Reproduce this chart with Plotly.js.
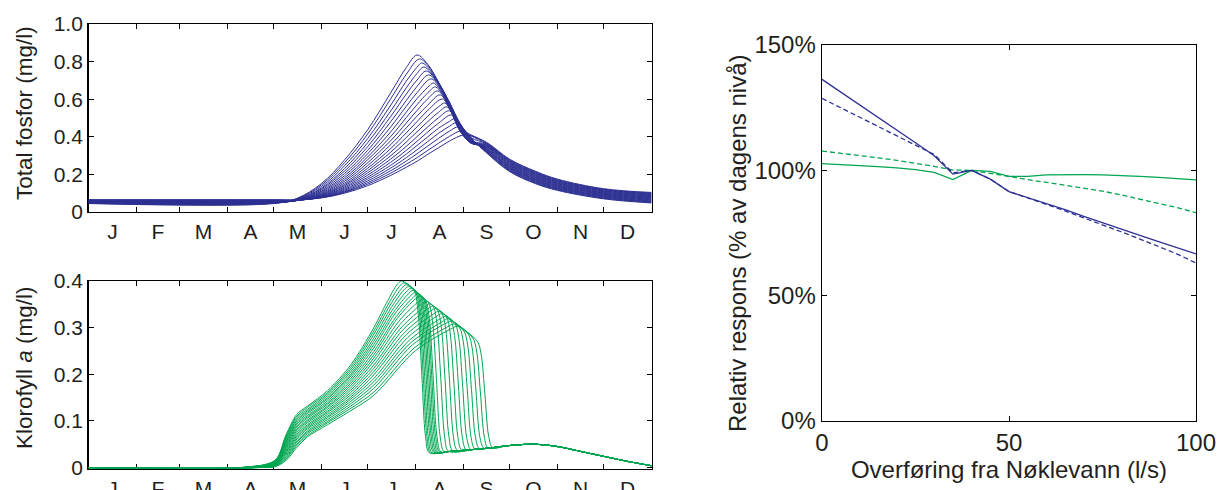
<!DOCTYPE html>
<html>
<head>
<meta charset="utf-8">
<script src="https://cdn.plot.ly/plotly-3.0.1.min.js"></script>
<style>html,body{margin:0;padding:0;background:#fff;}#chart{width:1220px;height:490px;}</style>
</head>
<body>
<div id="chart"></div>
<script>
// ---------- axis labels ----------
const monthLabels = ['J','F','M','A','M','J','J','A','S','O','N','D'];
const monthMidDays = [15.5,45,74.5,105,135.5,166,196.5,227.5,258,288.5,319,349.5];
const monthEdgeDays = [31,59,90,120,151,181,212,243,273,304,334];

// ---------- Total fosfor (mg/l), one row per scenario ----------
const tpGridDays = [0,120,135,151,166,181,196,206,213,220,227,234,241,248,258,273,290,304,334,365];
const tpCurves = [
 [0.045,0.045,0.072,0.151,0.277,0.438,0.635,0.768,null,0.785,0.690,0.585,0.470,0.395,0.315,0.215,0.150,0.115,0.070,0.048],
 [0.046,0.046,0.070,0.144,0.262,0.415,0.603,0.732,null,0.780,0.688,0.582,0.468,0.393,0.318,0.218,0.153,0.118,0.073,0.051],
 [0.047,0.047,0.068,0.136,0.246,0.391,0.569,0.696,0.770,0.770,0.686,0.579,0.466,0.391,0.321,0.222,0.157,0.121,0.075,0.054],
 [0.048,0.048,0.066,0.128,0.231,0.369,0.538,0.660,0.737,null,0.684,0.576,0.464,0.389,0.323,0.225,0.160,0.124,0.078,0.056],
 [0.049,0.049,0.064,0.123,0.218,0.348,0.509,0.627,0.702,null,0.680,0.573,0.462,0.387,0.326,0.228,0.163,0.127,0.081,0.059],
 [0.050,0.050,0.064,0.117,0.205,0.328,0.481,0.593,0.668,null,0.676,0.570,0.460,0.385,0.329,0.232,0.167,0.130,0.084,0.062],
 [0.051,0.051,0.062,0.111,0.193,0.310,0.453,0.562,0.635,null,0.670,0.567,0.455,0.382,0.332,0.235,0.170,0.133,0.086,0.065],
 [0.052,0.052,0.062,0.107,0.182,0.293,0.427,0.531,0.603,0.664,0.662,0.564,0.450,0.379,0.335,0.238,0.173,0.136,0.089,0.068],
 [0.053,0.053,0.061,0.102,0.172,0.278,0.402,0.502,0.571,0.634,null,0.560,0.445,0.376,0.337,0.241,0.176,0.139,0.092,0.070],
 [0.054,0.054,0.061,0.098,0.163,0.262,0.380,0.473,0.540,0.602,null,0.556,0.440,0.373,0.340,0.245,0.180,0.142,0.094,0.073],
 [0.055,0.055,0.061,0.094,0.154,0.247,0.359,0.447,0.510,0.569,null,0.552,0.435,0.370,0.343,0.248,0.183,0.145,0.097,0.076],
 [0.056,0.056,0.061,0.091,0.146,0.233,0.338,0.421,0.481,0.541,null,0.550,0.430,0.367,0.346,0.251,0.186,0.148,0.100,0.079],
 [0.057,0.057,0.061,0.088,0.140,0.220,0.319,0.396,0.453,0.510,0.560,0.555,0.430,0.366,0.349,0.255,0.190,0.151,0.102,0.082],
 [0.058,0.058,0.061,0.085,0.133,0.208,0.300,0.372,0.427,0.481,0.531,null,0.430,0.366,0.351,0.258,0.193,0.154,0.105,0.084],
 [0.059,0.059,0.061,0.083,0.127,0.196,0.282,0.349,0.401,0.453,0.502,null,0.435,0.368,0.354,0.261,0.196,0.157,0.108,0.087],
 [0.060,0.060,0.062,0.081,0.121,0.185,0.265,0.328,0.376,0.426,0.473,null,0.445,0.372,0.357,0.265,0.200,0.160,0.111,0.090],
 [0.061,0.061,0.062,0.079,0.116,0.175,0.249,0.308,0.354,0.400,0.446,0.482,0.465,0.380,0.360,0.268,0.203,0.163,0.113,0.093],
 [0.062,0.062,0.063,0.078,0.111,0.165,0.234,0.289,0.331,0.375,0.419,0.456,null,0.395,0.363,0.271,0.206,0.166,0.116,0.096],
 [0.063,0.063,0.063,0.077,0.107,0.156,0.220,0.271,0.310,0.351,0.392,0.430,null,0.405,0.365,0.274,0.209,0.169,0.119,0.098],
 [0.064,0.064,0.064,0.076,0.104,0.148,0.207,0.254,0.289,0.328,0.366,0.402,null,0.410,0.368,0.278,0.213,0.172,0.121,0.101],
 [0.065,0.065,0.065,0.075,0.100,0.140,0.195,0.238,0.270,0.307,0.342,0.377,null,0.405,0.371,0.281,0.216,0.175,0.124,0.104]
];
const tpPeakDays = [213,214.5,216,217.5,219,220.5,222,223.5,225,226.5,228,229.5,231,232.5,234,235.5,237,238.5,240,241.5,243];
const tpPeakValues = [0.835,0.814,0.793,0.771,0.750,0.729,0.708,0.686,0.665,0.644,0.623,0.601,0.580,0.559,0.538,0.516,0.495,0.474,0.453,0.431,0.410];

// ---------- Klorofyll a (mg/l), one row per scenario ----------
const chlDays = [
 [0,98,121,128,135,142,155,170,185,194,200,203,211,213.5,216,218.5,221],
 [0,98.6,121,128,135,142,155,170,185,194.8,201.5,204.5,211.9,214.4,216.9,219.4,221.9],
 [0,99.2,121,128,135,142,155,170,185,195.5,203,206,212.8,215.3,217.8,220.3,222.8],
 [0,99.8,121,128,135,142,155,170,185,196.3,204.5,207.5,213.8,216.3,218.8,221.3,223.8],
 [0,100.4,121,128,135,142,155,170,185,197,206,209,214.7,217.2,219.7,222.2,224.7],
 [0,101,121,128,135,142,155,170,185,197.8,207.5,210.5,215.6,218.1,220.6,223.1,225.6],
 [0,101.6,121,128,135,142,155,170,185,198.5,209,212,216.6,219.1,221.6,224.1,226.6],
 [0,102.2,121,128,135,142,155,170,185,199.3,210.5,213.5,217.5,220,222.5,225,227.5],
 [0,102.8,121,128,135,142,155,170,185,200,212,215,218.4,220.9,223.4,225.9,228.4],
 [0,103.4,121,128,135,142,155,170,185,201,214,217,220.5,223,225.5,228,230.5],
 [0,104,121,128,135,142,155,170,185,202,216,219,223.4,225.9,228.4,230.9,233.4],
 [0,104.6,121,128,135,142,155,170,185,203,218,221,226.2,228.7,231.2,233.7,236.2],
 [0,105.2,121,128,135,142,155,170,185,204,220,223,229.1,231.6,234.1,236.6,239.1],
 [0,105.8,121,128,135,142,155,170,185,205,222,225,231.9,234.4,236.9,239.4,241.9],
 [0,106.4,121,128,135,142,155,170,185,206,224,227,234.8,237.3,239.8,242.3,244.8],
 [0,107,121,128,135,142,155,170,185,207,226,229,237.6,240.1,242.6,245.1,247.6],
 [0,107.6,121,128,135,142,155,170,185,208,228,231,240.5,243,245.5,248,250.5],
 [0,108.2,121,128,135,142,155,170,185,209,230,233,243.3,245.8,248.3,250.8,253.3],
 [0,108.8,121,128,135,142,155,170,185,210,232,235,246.2,248.7,251.2,253.7,256.2],
 [0,109.4,121,128,135,142,155,170,185,211,234,237,249.1,251.6,254.1,256.6,259.1],
 [0,110,121,128,135,142,155,170,185,212,236,239,252,254.5,257,259.5,262]
];
const chlValues = [
 [0,0,0.016,0.070,0.114,0.132,0.165,0.220,0.300,0.358,0.392,0.400,0.380,0.338,0.206,0.067,0.032],
 [0,0,0.015,0.067,0.110,0.129,0.161,0.215,0.293,0.353,0.388,0.396,0.378,0.336,0.205,0.067,0.032],
 [0,0,0.015,0.065,0.107,0.125,0.158,0.210,0.286,0.348,0.384,0.392,0.375,0.334,0.204,0.066,0.032],
 [0,0,0.014,0.062,0.103,0.122,0.154,0.205,0.278,0.343,0.381,0.388,0.372,0.331,0.203,0.067,0.033],
 [0,0,0.013,0.059,0.100,0.119,0.150,0.200,0.271,0.338,0.377,0.384,0.370,0.330,0.202,0.067,0.033],
 [0,0,0.013,0.056,0.096,0.116,0.147,0.196,0.264,0.333,0.373,0.380,0.367,0.327,0.200,0.066,0.033],
 [0,0,0.012,0.054,0.093,0.112,0.143,0.191,0.257,0.329,0.369,0.376,0.365,0.325,0.199,0.066,0.033],
 [0,0,0.011,0.051,0.089,0.109,0.139,0.186,0.249,0.323,0.365,0.372,0.362,0.323,0.198,0.067,0.034],
 [0,0,0.010,0.048,0.086,0.106,0.136,0.181,0.242,0.319,0.362,0.368,0.360,0.321,0.197,0.067,0.034],
 [0,0,0.010,0.045,0.082,0.102,0.132,0.176,0.235,0.313,0.356,0.362,0.353,0.315,0.194,0.066,0.034],
 [0,0,0.009,0.043,0.079,0.099,0.129,0.171,0.228,0.307,0.351,0.357,0.346,0.309,0.191,0.066,0.035],
 [0,0,0.008,0.040,0.075,0.096,0.125,0.166,0.220,0.301,0.345,0.351,0.338,0.302,0.187,0.066,0.036],
 [0,0,0.008,0.037,0.071,0.092,0.121,0.161,0.213,0.296,0.340,0.346,0.331,0.296,0.184,0.066,0.037],
 [0,0,0.007,0.034,0.068,0.089,0.118,0.156,0.206,0.290,0.336,0.341,0.324,0.290,0.181,0.067,0.038],
 [0,0,0.006,0.032,0.064,0.086,0.114,0.151,0.199,0.285,0.330,0.335,0.316,0.283,0.177,0.066,0.038],
 [0,0,0.006,0.029,0.061,0.083,0.110,0.147,0.191,0.279,0.325,0.330,0.309,0.277,0.174,0.066,0.039],
 [0,0,0.005,0.026,0.057,0.079,0.107,0.142,0.184,0.273,0.319,0.324,0.300,0.269,0.170,0.066,0.040],
 [0,0,0.004,0.023,0.054,0.076,0.103,0.137,0.177,0.268,0.314,0.319,0.293,0.263,0.167,0.066,0.041],
 [0,0,0.003,0.021,0.050,0.073,0.099,0.132,0.170,0.263,0.310,0.314,0.286,0.257,0.164,0.066,0.042],
 [0,0,0.003,0.018,0.047,0.069,0.096,0.127,0.162,0.256,0.304,0.308,0.278,0.250,0.160,0.066,0.042],
 [0,0,0.002,0.015,0.043,0.066,0.092,0.122,0.155,0.251,0.299,0.303,0.271,0.244,0.157,0.066,0.043]
];
const chlTailDays = [222,235,250,260,272,285,295,306,320,337,350,365];
const chlTailValues = [0.032,0.035,0.039,0.042,0.047,0.050,0.049,0.044,0.034,0.022,0.013,0.004];

// ---------- Relativ respons (% av dagens nivå) ----------
const flowRates = [0,5,10,15,20,25,30,35,40,45,50,55,60,65,70,75,80,85,90,95,100];
const tpRespSolid  = [136.3,131.3,126.2,121.2,116.2,111.0,105.8,98.5,100,96.5,91.5,89.2,86.8,84.3,81.6,79.0,76.6,74.1,71.6,69.2,66.7];
const tpRespDashed = [128.7,125.0,121.3,117.6,113.9,110.2,106.3,99.0,100,96.5,91.5,89.0,86.5,83.8,81.0,78.4,75.5,72.6,69.7,66.6,63.0];
const chlRespSolid  = [102.7,102.4,102.0,101.5,101.0,100.3,99.2,96.3,100,99.6,97.6,97.6,98.2,98.3,98.3,98.2,98.0,97.6,97.2,96.7,96.2];
const chlRespDashed = [107.7,106.9,106.0,105.0,104.0,102.9,101.6,100.1,100,98.8,97.4,96.3,95.2,94.1,92.9,91.7,90.2,88.6,86.9,85.1,83.1];

// ---------- build traces ----------
const BLUE = '#2E3192', GREEN = '#00A651', INK = '#231f20';
const FONT = 'Liberation Sans, Arial, Helvetica, sans-serif';
const traces = [];

tpCurves.forEach((row, k) => {
  const x = [], y = [];
  let inserted = false;
  tpGridDays.forEach((d, i) => {
    if (!inserted && d >= tpPeakDays[k]) { x.push(tpPeakDays[k]); y.push(tpPeakValues[k]); inserted = true; }
    if (row[i] !== null && d !== tpPeakDays[k]) { x.push(d); y.push(row[i]); }
  });
  traces.push({x, y, type:'scatter', mode:'lines', xaxis:'x', yaxis:'y',
    line:{color:BLUE, width:1, shape:'spline', smoothing:1}, hoverinfo:'skip', showlegend:false});
});

chlDays.forEach((days, k) => {
  const last = days[days.length - 1];
  const x = days.slice(), y = chlValues[k].slice();
  chlTailDays.forEach((d, i) => { if (d > last + 2) { x.push(d); y.push(chlTailValues[i]); } });
  traces.push({x, y, type:'scatter', mode:'lines', xaxis:'x2', yaxis:'y2',
    line:{color:GREEN, width:1, shape:'spline', smoothing:0.9}, hoverinfo:'skip', showlegend:false});
});

[[chlRespSolid, GREEN, 'solid'], [chlRespDashed, GREEN, '5px,3px'],
 [tpRespDashed, BLUE, '5px,3px'], [tpRespSolid, BLUE, 'solid']].forEach(([vals, col, dash]) => {
  traces.push({x: flowRates, y: vals, type:'scatter', mode:'lines', xaxis:'x3', yaxis:'y3',
    line:{color:col, width:1.3, dash}, hoverinfo:'skip', showlegend:false});
});

// ---------- axes ----------
const common = {showline:true, linecolor:'#000', linewidth:1.4, mirror:'ticks', showgrid:false,
  zeroline:false, ticks:'inside', ticklen:5, tickcolor:'#000', tickwidth:1, layer:'below traces'};
const leftXDomain = [88.5/1220, 651.5/1220];
function monthAxis(anchor) {
  return Object.assign({}, common, {domain:leftXDomain, anchor, range:[0,365],
    tickmode:'array', tickvals:monthMidDays, ticktext:monthLabels, ticks:'',
    tickfont:{family:FONT, size:21, color:INK},
    minor:{tickmode:'array', tickvals:monthEdgeDays, ticks:'inside', ticklen:5, tickcolor:'#000', tickwidth:1}});
}

const layout = {
  width:1220, height:490, margin:{l:0, r:0, t:0, b:0},
  paper_bgcolor:'#fff', plot_bgcolor:'#fff', showlegend:false,
  font:{family:FONT, color:INK},
  xaxis: monthAxis('y'),
  yaxis: Object.assign({}, common, {domain:[1-212/490, 1-24/490], anchor:'x', range:[0,1],
    tickmode:'array', tickvals:[0,0.2,0.4,0.6,0.8,1.0], ticktext:['0','0.2','0.4','0.6','0.8','1.0'],
    tickfont:{family:FONT, size:21, color:INK}}),
  xaxis2: monthAxis('y2'),
  yaxis2: Object.assign({}, common, {domain:[1-469/490, 1-281/490], anchor:'x2', range:[-0.003,0.4],
    tickmode:'array', tickvals:[0,0.1,0.2,0.3,0.4], ticktext:['0','0.1','0.2','0.3','0.4'],
    tickfont:{family:FONT, size:21, color:INK}}),
  xaxis3: Object.assign({}, common, {domain:[822/1220, 1196/1220], anchor:'y3', range:[0,100],
    tickmode:'array', tickvals:[0,50,100], ticktext:['0','50','100'],
    tickfont:{family:FONT, size:24, color:INK},
    title:{text:'Overføring fra Nøklevann (l/s)', font:{family:FONT, size:24, color:INK}, standoff:6}}),
  yaxis3: Object.assign({}, common, {domain:[1-421/490, 1-45/490], anchor:'x3', range:[0,150],
    tickmode:'array', tickvals:[0,50,100,150], ticktext:['0%','50%','100%','150%'],
    tickfont:{family:FONT, size:24, color:INK}}),
  annotations: [
    {text:'Total fosfor (mg/l)', xref:'paper', yref:'paper', x:24/1220, y:1-113/490,
     textangle:-90, showarrow:false, xanchor:'center', yanchor:'middle', font:{family:FONT, size:22.5, color:INK}},
    {text:'Klorofyll <i>a</i> (mg/l)', xref:'paper', yref:'paper', x:24/1220, y:1-368/490,
     textangle:-90, showarrow:false, xanchor:'center', yanchor:'middle', font:{family:FONT, size:22.5, color:INK}},
    {text:'Relativ respons (% av dagens nivå)', xref:'paper', yref:'paper', x:738/1220, y:1-243/490,
     textangle:-90, showarrow:false, xanchor:'center', yanchor:'middle', font:{family:FONT, size:24, color:INK}}
  ]
};

Plotly.newPlot('chart', traces, layout, {staticPlot:true, displayModeBar:false});
</script>
</body>
</html>
